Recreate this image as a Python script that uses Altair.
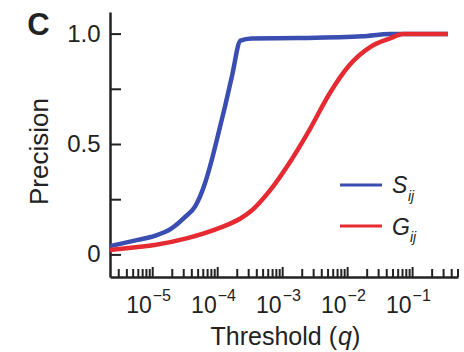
import altair as alt
import pandas as pd

# Precision vs. threshold q for the two statistics
s_q = [2.2e-6, 5.9e-6, 1.07e-5, 1.95e-5, 3.1e-5, 4.5e-5, 6.3e-5, 8.1e-5, 9.5e-5,
       1.29e-4, 1.66e-4, 2.24e-4, 3.3e-4, 1.8e-3, 1.7e-2, 4.5e-2, 0.35]
s_prec = [0.04, 0.068, 0.086, 0.12, 0.17, 0.22, 0.32, 0.43, 0.51,
          0.67, 0.81, 0.97, 0.98, 0.982, 0.99, 1.0, 1.0]

g_q = [2.2e-6, 5.9e-6, 1.07e-5, 3.3e-5, 1.12e-4, 2.24e-4, 3.3e-4, 6.3e-4, 1.29e-3,
       2.63e-3, 5.25e-3, 1.07e-2, 2.19e-2, 4.47e-2, 7.1e-2, 0.35]
g_prec = [0.022, 0.036, 0.045, 0.075, 0.125, 0.165, 0.2, 0.29, 0.42,
          0.57, 0.73, 0.86, 0.94, 0.98, 1.0, 1.0]

# Axis ticks and labels
decade_exps = [-5, -4, -3, -2, -1]
y_ticks = [0, 0.25, 0.5, 0.75, 1.0]
y_labels = [0, 0.5, 1.0]
x_domain = [2.2e-6, 0.5]
y_domain = [-0.1, 1.1]

BLUE = "#3A4DB0"
RED = "#E52A32"
INK = "#222222"
FONT = "Liberation Sans"
W, H = 348, 265

major = [10.0 ** e for e in decade_exps]
minor = [m * 10.0 ** e for e in range(-6, 0) for m in range(2, 10)
         if x_domain[0] <= m * 10.0 ** e <= x_domain[1]]

s_df = pd.DataFrame({"q": s_q, "precision": s_prec})
g_df = pd.DataFrame({"q": g_q, "precision": g_prec})

xs = alt.Scale(type="log", domain=x_domain, nice=False)
ys = alt.Scale(domain=y_domain, nice=False, zero=False)

x_axis = alt.Axis(title=None, labels=False, ticks=False, grid=False,
                  domainColor=INK, domainWidth=2.5)
y_axis = alt.Axis(title="Precision", values=y_labels, ticks=False, grid=False,
                  domainColor=INK, domainWidth=2.5,
                  labelExpr="datum.value == 0 ? '0' : format(datum.value, '.1f')",
                  labelFont=FONT, labelFontSize=24, labelColor=INK, labelPadding=10,
                  titleFont=FONT, titleFontSize=26, titleFontWeight="normal",
                  titleColor=INK, titleAngle=270, titleAlign="center",
                  titleBaseline="alphabetic", titleX=-63, titleY=139)

s_line = alt.Chart(s_df).mark_line(color=BLUE, strokeWidth=4.5, interpolate="monotone").encode(
    x=alt.X("q:Q", scale=xs, axis=x_axis),
    y=alt.Y("precision:Q", scale=ys, axis=y_axis),
)
g_line = alt.Chart(g_df).mark_line(color=RED, strokeWidth=4.5, interpolate="monotone").encode(
    x=alt.X("q:Q", scale=xs),
    y=alt.Y("precision:Q", scale=ys),
)

# Inward-pointing ticks
x_major = alt.Chart(pd.DataFrame({"q": major})).mark_rule(color=INK, strokeWidth=2).encode(
    x=alt.X("q:Q", scale=xs), y=alt.value(H), y2=alt.value(H - 10))
x_minor = alt.Chart(pd.DataFrame({"q": minor})).mark_rule(color=INK, strokeWidth=2).encode(
    x=alt.X("q:Q", scale=xs), y=alt.value(H), y2=alt.value(H - 8))
y_tick = alt.Chart(pd.DataFrame({"p": y_ticks})).mark_rule(color=INK, strokeWidth=2).encode(
    y=alt.Y("p:Q", scale=ys), x=alt.value(0), x2=alt.value(11))

# Decade labels 10^k
lab_df = pd.DataFrame({"q": major, "base": ["10"] * len(major),
                       "exp": ["\u2212" + str(-e) for e in decade_exps]})
x_base = alt.Chart(lab_df).mark_text(font=FONT, fontSize=23, color=INK, align="right",
                                     baseline="alphabetic", dx=-1).encode(
    x=alt.X("q:Q", scale=xs), y=alt.value(H + 36), text="base:N")
x_exp = alt.Chart(lab_df).mark_text(font=FONT, fontSize=16, color=INK, align="left",
                                    baseline="alphabetic", dx=0).encode(
    x=alt.X("q:Q", scale=xs), y=alt.value(H + 24), text="exp:N")


def label(text, x, y, size, style="normal", weight="normal", align="left"):
    return alt.Chart(pd.DataFrame({"t": [text]})).mark_text(
        font=FONT, fontSize=size, fontStyle=style, fontWeight=weight, color=INK,
        align=align, baseline="alphabetic").encode(
        x=alt.value(x), y=alt.value(y), text="t:N")


def swatch(color, y):
    return alt.Chart(pd.DataFrame({"t": [0]})).mark_rule(color=color, strokeWidth=3).encode(
        x=alt.value(230), x2=alt.value(272), y=alt.value(y))


# X axis title: Threshold (q)
x_title = (label("Threshold (", 227, 333, 25, align="right")
           + label("q", 228, 333, 25, style="italic")
           + label(")", 242, 333, 25))

# Panel letter
panel = label("C", -71.5, 23, 31, weight="bold", align="center")

# Legend
legend = (swatch(BLUE, 173) + swatch(RED, 214)
          + label("S", 282, 181, 23, style="italic")
          + label("ij", 298, 189, 14, style="italic")
          + label("G", 282, 223, 23, style="italic")
          + label("ij", 300, 230, 14, style="italic"))

chart = alt.layer(
    s_line, g_line, x_major, x_minor, y_tick, x_base, x_exp, x_title, panel, legend,
).properties(
    width=W, height=H,
    autosize=alt.AutoSizeParams(type="none"),
    padding={"left": 110, "top": 12, "right": 6, "bottom": 75},
).configure_view(stroke=None)

chart.save("out.html", embed_options={"renderer": "svg", "actions": False})
